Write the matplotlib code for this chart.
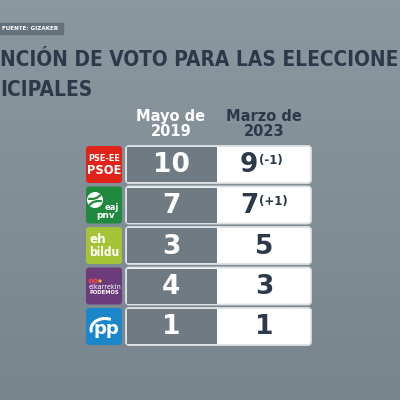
import numpy as np
import matplotlib
matplotlib.use("Agg")
import matplotlib.pyplot as plt
from matplotlib import font_manager
from matplotlib.patches import FancyBboxPatch, Rectangle, Arc, Circle

# datos
parties = ["PSE-EE PSOE", "EAJ-PNV", "EH Bildu", "Elkarrekin Podemos", "PP"]
seats_2019 = [10, 7, 3, 4, 1]
seats_2023 = [9, 7, 5, 3, 1]
changes = ["(-1)", "(+1)", "", "", ""]
col_headers = ["Mayo de\n2019", "Marzo de\n2023"]
title_l1 = "NCIÓN DE VOTO PARA LAS ELECCIONE"
title_l2 = "ICIPALES"
source = "FUENTE: GIZAKER"

NAVY = "#2b394a"
GREY_CELL = "#6f7a82"

names = {f.name for f in font_manager.fontManager.ttflist}
if "Liberation Sans Narrow" in names:
    cond = dict(family="Liberation Sans Narrow")
elif "DejaVu Sans Condensed" in names:
    cond = dict(family="DejaVu Sans Condensed")
else:
    cond = dict(family="DejaVu Sans", stretch="condensed")

fig = plt.figure(figsize=(4, 4), dpi=100)
ax = fig.add_axes([0, 0, 1, 1])
ax.set_xlim(0, 400)
ax.set_ylim(400, 0)
ax.axis("off")

# fondo degradado
top = np.array([140, 152, 159]) / 255
bot = np.array([121, 133, 141]) / 255
g = np.linspace(0, 1, 200)[:, None]
grad = top + (bot - top) * g
ax.imshow(np.repeat(grad[:, None, :], 2, axis=1), extent=(0, 400, 400, 0),
          aspect="auto", zorder=0)

fig.canvas.draw()
r = fig.canvas.get_renderer()


def fit(txt, width, fs0, **kw):
    p = ax.text(0, 0, txt, fontsize=fs0, **kw)
    w = p.get_window_extent(r).width
    p.remove()
    return fs0 * width / w


# fuente
ax.add_patch(Rectangle((0, 23), 63, 10.5, color="#65717a", zorder=1))
fs_src = fit(source, 57, 6, fontweight="bold", **cond)
ax.text(2.5, 28.5, source, color="white", fontsize=fs_src, fontweight="bold",
        va="center", ha="left", zorder=2, **cond)

# titulo
fs = fit(title_l1, 398, 22, fontweight="bold", **cond)
ax.text(0, 66, title_l1, color=NAVY, fontsize=fs, fontweight="bold",
        va="baseline", ha="left", **cond)
ax.text(0, 96, title_l2, color=NAVY, fontsize=fs, fontweight="bold",
        va="baseline", ha="left", **cond)

# cabeceras
ax.text(171, 124, col_headers[0], color="white", fontsize=10.5, fontweight="bold",
        ha="center", va="center", linespacing=1.0)
ax.text(264, 124, col_headers[1], color=NAVY, fontsize=10.5, fontweight="bold",
        ha="center", va="center", linespacing=1.0)

row_top0, pitch, row_h = 146, 40.5, 37
logo_x, logo_w = 86, 36
x0, xmid, x1 = 126, 217, 311


def logo(i, y):
    c = y + row_h / 2
    cx = logo_x + logo_w / 2
    colors = ["#e2231a", "#1f8a3d", "#a5c337", "#6b3b7c", "#1b86c9"]
    ax.add_patch(FancyBboxPatch((logo_x, y), logo_w, row_h,
                                boxstyle="round,pad=0,rounding_size=3",
                                fc=colors[i], ec="none", zorder=2))
    if i == 0:
        ax.text(cx, c - 6, "PSE-EE", color="white", fontsize=6.5, fontweight="bold",
                ha="center", va="center", zorder=3, **cond)
        ax.text(cx, c + 6, "PSOE", color="white", fontsize=9.2, fontweight="bold",
                ha="center", va="center", zorder=3, **cond)
    elif i == 1:
        bx, by = logo_x + 9, c - 5
        ax.add_patch(Circle((bx, by), 8, fc="white", ec="none", zorder=3))
        ax.add_patch(Arc((bx + 4, by + 9), 22, 16, theta1=200, theta2=290,
                         color=colors[i], lw=1.6, zorder=4))
        ax.add_patch(Arc((bx - 4, by - 9), 22, 16, theta1=20, theta2=110,
                         color=colors[i], lw=1.6, zorder=4))
        ax.text(logo_x + 26, c + 2, "eaj", color="white", fontsize=6, fontweight="bold",
                ha="center", va="center", zorder=3)
        ax.text(logo_x + 20, c + 10, "pnv", color="white", fontsize=6.5, fontweight="bold",
                ha="center", va="center", zorder=3)
    elif i == 2:
        ax.text(logo_x + 3, c - 6, "eh", color="white", fontsize=9.5, fontweight="bold",
                ha="left", va="center", zorder=3, **cond)
        ax.text(logo_x + 3, c + 7, "bildu", color="white", fontsize=8.5, fontweight="bold",
                ha="left", va="center", zorder=3, **cond)
    elif i == 3:
        ax.add_patch(Circle((logo_x + 5, c - 5), 1.6, fc="none", ec="#e8424a", lw=1.1, zorder=3))
        ax.add_patch(Circle((logo_x + 9.5, c - 5), 1.6, fc="none", ec="#e8424a", lw=1.1, zorder=3))
        ax.add_patch(Circle((logo_x + 14, c - 5), 1.6, fc="#f2c230", ec="none", zorder=3))
        ax.text(logo_x + 3, c + 1, "elkarrekin", color="white", fontsize=5.2,
                ha="left", va="center", zorder=3, **cond)
        ax.text(logo_x + 3, c + 6.5, "PODEMOS", color="white", fontsize=3.8, fontweight="bold",
                ha="left", va="center", zorder=3)
    else:
        # eje y invertido: los angulos van en sentido contrario
        ax.add_patch(Arc((cx + 1, c + 3), 28, 22, theta1=168, theta2=300,
                         color="white", lw=2.2, zorder=3))
        ax.text(cx + 2, c + 3, "pp", color="white", fontsize=13, fontweight="bold",
                ha="center", va="center", zorder=3)


for i in range(len(parties)):
    y = row_top0 + i * pitch
    c = y + row_h / 2
    logo(i, y)
    ax.add_patch(FancyBboxPatch((x0, y), x1 - x0, row_h,
                                boxstyle="round,pad=0,rounding_size=3",
                                fc="white", ec="#dde1e4", lw=1.3, zorder=2))
    ax.add_patch(Rectangle((x0 + 1, y + 1), xmid - x0 - 1, row_h - 2,
                           fc=GREY_CELL, ec="none", zorder=3))
    ax.text(171, c + 1, str(seats_2019[i]), color="white", fontsize=19,
            fontweight="bold", ha="center", va="center", zorder=4)
    if changes[i]:
        ax.text(249, c + 1, str(seats_2023[i]), color=NAVY, fontsize=19,
                fontweight="bold", ha="center", va="center", zorder=4)
        ax.text(259, c - 4, changes[i], color=NAVY, fontsize=8.5,
                fontweight="bold", ha="left", va="center", zorder=4)
    else:
        ax.text(264, c + 1, str(seats_2023[i]), color=NAVY, fontsize=19,
                fontweight="bold", ha="center", va="center", zorder=4)

fig.savefig("out.png", dpi=100)
